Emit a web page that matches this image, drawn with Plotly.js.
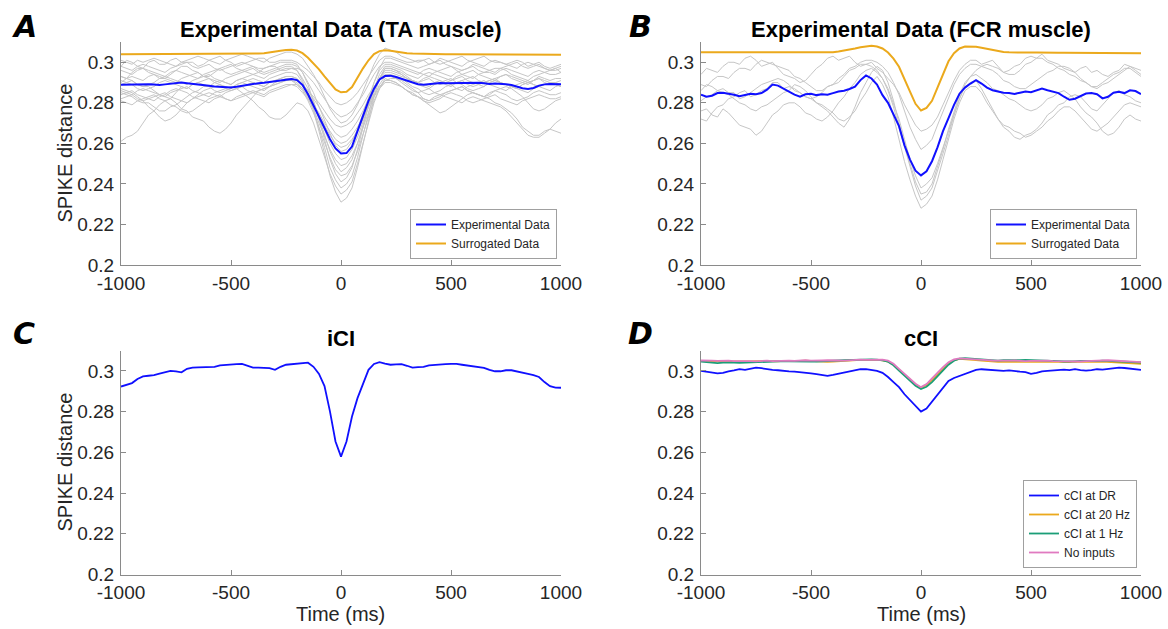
<!DOCTYPE html>
<html>
<head>
<meta charset="utf-8">
<script src="https://cdn.plot.ly/plotly-3.0.1.min.js"></script>
<style>html,body{margin:0;padding:0;background:#fff;}#chart{width:1168px;height:629px;}</style>
</head>
<body>
<div id="chart"></div>
<script>
// ---------- DATA ----------
const timeMs = [-1000,-975,-950,-925,-900,-875,-850,-825,-800,-775,-750,-725,-700,-675,-650,-625,-600,-575,-550,-525,-500,-475,-450,-425,-400,-375,-350,-325,-300,-275,-250,-225,-200,-175,-150,-125,-100,-75,-50,-25,0,25,50,75,100,125,150,175,200,225,250,275,300,325,350,375,400,425,450,475,500,525,550,575,600,625,650,675,700,725,750,775,800,825,850,875,900,925,950,975,1000];

const xTickVals = [-1000,-500,0,500,1000];
const xTickText = ['-1000','-500','0','500','1000'];
const yTickVals = [0.2,0.22,0.24,0.26,0.28,0.3];
const yTickText = ['0.2','0.22','0.24','0.26','0.28','0.3'];

// Panel A: TA muscle
const taExperimental = [0.2889,0.2890,0.2889,0.2891,0.2890,0.2892,0.2890,0.2888,0.2891,0.2894,0.2898,0.2900,0.2897,0.2893,0.2890,0.2886,0.2884,0.2881,0.2879,0.2877,0.2876,0.2879,0.2884,0.2889,0.2893,0.2897,0.2899,0.2902,0.2905,0.2908,0.2913,0.2917,0.2912,
 0.2888,0.2842,0.2785,0.2728,0.2675,0.2620,0.2575,0.2550,0.2552,0.2584,0.2660,0.2740,0.2810,0.2870,0.2915,0.2932,
 0.2934,0.2927,0.2918,0.2908,0.2898,0.2892,0.2889,0.2893,0.2897,0.2898,0.2896,0.2897,0.2895,0.2896,0.2898,0.2900,0.2899,0.2896,0.2893,0.2895,0.2894,0.2892,0.2888,0.2880,0.2872,0.2868,0.2873,0.2885,0.2891,0.2893,0.2892,0.2892];
const taSurrogated = [0.3040,0.3040,0.3040,0.3041,0.3041,0.3041,0.3041,0.3041,0.3041,0.3041,0.3041,0.3041,0.3041,0.3041,0.3041,0.3041,0.3041,0.3041,0.3041,0.3042,0.3042,0.3042,0.3042,0.3042,0.3042,
 0.3043,0.3045,0.3048,0.3052,0.3057,0.3061,0.3062,0.3058,0.3045,0.3022,0.2995,0.2965,0.2930,0.2895,0.2866,0.2852,0.2855,0.2878,0.2925,0.2970,0.3010,0.3040,0.3055,0.3059,0.3057,0.3052,0.3048,0.3045,0.3043,0.3042,
 0.3041,0.3041,0.3041,0.3040,0.3040,0.3040,0.3040,0.3040,0.3040,0.3040,0.3039,0.3039,0.3039,0.3039,0.3039,0.3039,0.3039,0.3038,0.3038,0.3038,0.3038,0.3038,0.3038,0.3037,0.3037,0.3037];
const taTrials = [
 [0.298,0.301,0.300,0.298,0.297,0.300,0.301,0.299,0.299,0.301,0.302,0.300,0.300,0.300,0.298,0.299,0.301,0.302,0.303,0.301,0.300,0.298,0.299,0.300,0.301,0.302,0.302,0.300,0.300,0.301,0.301,0.301,0.300,0.298,0.296,0.293,0.290,0.286,0.283,0.280,0.279,0.280,0.282,0.285,0.289,0.293,0.297,0.301,0.303,0.303,0.302,0.301,0.300,0.300,0.301,0.301,0.299,0.300,0.302,0.301,0.300,0.299,0.298,0.300,0.301,0.302,0.303,0.301,0.300,0.300,0.299,0.300,0.301,0.300,0.298,0.299,0.300,0.298,0.297,0.298,0.299],
 [0.293,0.292,0.295,0.297,0.297,0.295,0.294,0.292,0.292,0.294,0.296,0.298,0.298,0.296,0.295,0.293,0.293,0.295,0.297,0.298,0.299,0.297,0.296,0.295,0.294,0.295,0.297,0.298,0.298,0.296,0.296,0.297,0.297,0.296,0.293,0.290,0.286,0.282,0.278,0.275,0.273,0.274,0.276,0.280,0.284,0.289,0.294,0.298,0.300,0.300,0.299,0.298,0.297,0.296,0.295,0.294,0.293,0.295,0.296,0.297,0.298,0.296,0.294,0.293,0.292,0.294,0.295,0.296,0.297,0.297,0.296,0.294,0.293,0.292,0.291,0.293,0.294,0.295,0.296,0.297,0.295],
 [0.261,0.263,0.264,0.266,0.270,0.274,0.276,0.279,0.281,0.282,0.285,0.288,0.287,0.289,0.290,0.289,0.288,0.290,0.291,0.290,0.289,0.291,0.292,0.291,0.290,0.289,0.288,0.290,0.291,0.292,0.293,0.293,0.292,0.289,0.286,0.283,0.280,0.276,0.272,0.269,0.268,0.269,0.271,0.275,0.279,0.284,0.288,0.292,0.295,0.295,0.294,0.293,0.292,0.291,0.290,0.291,0.292,0.290,0.289,0.290,0.291,0.292,0.293,0.291,0.290,0.289,0.288,0.290,0.291,0.290,0.289,0.288,0.287,0.289,0.290,0.291,0.292,0.290,0.289,0.289,0.288],
 [0.289,0.290,0.291,0.289,0.288,0.288,0.286,0.284,0.283,0.282,0.280,0.277,0.276,0.273,0.272,0.271,0.268,0.266,0.265,0.267,0.270,0.274,0.277,0.280,0.283,0.286,0.287,0.288,0.290,0.291,0.292,0.292,0.291,0.289,0.286,0.282,0.278,0.273,0.269,0.265,0.263,0.264,0.267,0.271,0.276,0.282,0.287,0.291,0.294,0.294,0.293,0.292,0.290,0.288,0.287,0.285,0.284,0.285,0.286,0.288,0.289,0.290,0.291,0.289,0.288,0.289,0.290,0.291,0.292,0.290,0.289,0.288,0.287,0.289,0.290,0.289,0.288,0.287,0.286,0.288,0.289],
 [0.285,0.284,0.283,0.281,0.280,0.280,0.278,0.276,0.276,0.278,0.279,0.281,0.283,0.285,0.286,0.288,0.288,0.286,0.285,0.286,0.287,0.289,0.290,0.289,0.288,0.287,0.286,0.288,0.289,0.290,0.291,0.291,0.289,0.287,0.283,0.279,0.275,0.270,0.266,0.262,0.260,0.261,0.264,0.268,0.273,0.279,0.284,0.288,0.291,0.292,0.292,0.291,0.289,0.287,0.285,0.282,0.281,0.282,0.283,0.285,0.286,0.287,0.288,0.286,0.285,0.284,0.283,0.284,0.286,0.287,0.288,0.287,0.285,0.283,0.280,0.277,0.276,0.277,0.279,0.281,0.282],
 [0.296,0.295,0.294,0.296,0.297,0.296,0.295,0.294,0.293,0.295,0.296,0.295,0.294,0.293,0.292,0.294,0.295,0.296,0.297,0.295,0.294,0.295,0.296,0.297,0.298,0.296,0.295,0.296,0.297,0.298,0.299,0.299,0.298,0.295,0.290,0.285,0.278,0.271,0.265,0.259,0.256,0.257,0.261,0.267,0.275,0.283,0.290,0.296,0.299,0.299,0.298,0.297,0.296,0.295,0.294,0.296,0.297,0.296,0.295,0.294,0.293,0.295,0.296,0.297,0.298,0.296,0.295,0.295,0.294,0.296,0.297,0.296,0.295,0.294,0.293,0.295,0.296,0.295,0.294,0.294,0.295],
 [0.287,0.286,0.285,0.283,0.281,0.278,0.276,0.273,0.271,0.272,0.274,0.277,0.280,0.282,0.284,0.286,0.287,0.288,0.289,0.287,0.286,0.287,0.288,0.289,0.290,0.289,0.288,0.290,0.291,0.292,0.293,0.293,0.292,0.289,0.285,0.280,0.273,0.266,0.260,0.255,0.252,0.253,0.257,0.263,0.271,0.279,0.286,0.292,0.296,0.296,0.295,0.294,0.292,0.290,0.289,0.288,0.287,0.289,0.290,0.291,0.292,0.290,0.289,0.287,0.286,0.287,0.288,0.290,0.291,0.290,0.289,0.288,0.287,0.286,0.285,0.287,0.288,0.289,0.290,0.289,0.288],
 [0.284,0.285,0.286,0.284,0.283,0.282,0.281,0.283,0.284,0.286,0.287,0.286,0.285,0.283,0.282,0.281,0.280,0.282,0.283,0.285,0.286,0.287,0.288,0.286,0.285,0.286,0.287,0.288,0.289,0.290,0.291,0.291,0.290,0.287,0.282,0.277,0.270,0.263,0.257,0.252,0.249,0.250,0.254,0.260,0.268,0.276,0.283,0.289,0.293,0.293,0.292,0.290,0.288,0.286,0.285,0.286,0.287,0.285,0.284,0.285,0.286,0.287,0.288,0.286,0.285,0.284,0.283,0.282,0.280,0.279,0.277,0.275,0.272,0.268,0.266,0.264,0.264,0.266,0.267,0.266,0.265],
 [0.290,0.292,0.293,0.292,0.291,0.293,0.294,0.293,0.292,0.291,0.290,0.292,0.293,0.294,0.295,0.293,0.292,0.291,0.290,0.292,0.293,0.294,0.295,0.296,0.297,0.295,0.294,0.295,0.296,0.297,0.298,0.298,0.296,0.292,0.287,0.281,0.273,0.264,0.256,0.250,0.246,0.248,0.252,0.260,0.269,0.279,0.287,0.294,0.298,0.298,0.297,0.296,0.294,0.293,0.292,0.294,0.295,0.294,0.293,0.292,0.291,0.293,0.294,0.295,0.296,0.294,0.293,0.292,0.291,0.293,0.294,0.293,0.292,0.291,0.290,0.291,0.293,0.292,0.291,0.292,0.292],
 [0.281,0.280,0.279,0.281,0.282,0.283,0.284,0.282,0.281,0.279,0.278,0.276,0.275,0.276,0.278,0.280,0.282,0.283,0.284,0.282,0.281,0.282,0.283,0.284,0.285,0.284,0.283,0.285,0.286,0.287,0.288,0.289,0.289,0.286,0.281,0.275,0.268,0.260,0.253,0.247,0.244,0.245,0.249,0.256,0.265,0.273,0.281,0.287,0.291,0.291,0.290,0.288,0.286,0.284,0.283,0.281,0.280,0.281,0.282,0.284,0.285,0.284,0.283,0.281,0.280,0.281,0.282,0.283,0.284,0.282,0.281,0.280,0.279,0.281,0.282,0.283,0.284,0.283,0.282,0.282,0.283],
 [0.298,0.297,0.296,0.298,0.299,0.298,0.297,0.296,0.295,0.297,0.298,0.299,0.300,0.298,0.297,0.298,0.299,0.297,0.296,0.297,0.298,0.299,0.300,0.299,0.298,0.297,0.297,0.298,0.299,0.300,0.300,0.300,0.299,0.295,0.289,0.281,0.272,0.262,0.252,0.245,0.241,0.243,0.248,0.257,0.268,0.279,0.290,0.297,0.302,0.302,0.301,0.300,0.299,0.298,0.297,0.298,0.299,0.300,0.301,0.299,0.298,0.297,0.296,0.297,0.299,0.298,0.297,0.296,0.295,0.297,0.298,0.299,0.300,0.298,0.297,0.298,0.299,0.297,0.296,0.297,0.298],
 [0.291,0.290,0.289,0.287,0.286,0.287,0.288,0.290,0.291,0.290,0.289,0.288,0.287,0.289,0.290,0.291,0.292,0.290,0.289,0.288,0.287,0.289,0.290,0.291,0.292,0.291,0.290,0.292,0.293,0.294,0.295,0.295,0.294,0.290,0.284,0.277,0.268,0.258,0.248,0.242,0.238,0.240,0.244,0.253,0.264,0.275,0.285,0.292,0.297,0.297,0.296,0.295,0.293,0.291,0.290,0.289,0.288,0.290,0.291,0.290,0.289,0.287,0.286,0.288,0.289,0.290,0.291,0.289,0.288,0.287,0.286,0.288,0.289,0.290,0.291,0.289,0.288,0.289,0.290,0.290,0.289],
 [0.286,0.285,0.284,0.286,0.287,0.286,0.285,0.284,0.283,0.285,0.286,0.287,0.288,0.286,0.285,0.284,0.283,0.285,0.286,0.287,0.288,0.287,0.285,0.283,0.281,0.278,0.276,0.273,0.272,0.272,0.274,0.277,0.280,0.279,0.276,0.270,0.262,0.253,0.245,0.239,0.235,0.237,0.241,0.250,0.260,0.270,0.280,0.287,0.292,0.291,0.290,0.288,0.286,0.285,0.283,0.281,0.279,0.277,0.275,0.276,0.278,0.280,0.282,0.284,0.285,0.284,0.283,0.285,0.286,0.285,0.284,0.282,0.281,0.282,0.283,0.285,0.286,0.285,0.284,0.284,0.285],
 [0.293,0.292,0.291,0.289,0.288,0.289,0.290,0.292,0.293,0.292,0.291,0.290,0.289,0.291,0.292,0.293,0.294,0.292,0.291,0.290,0.289,0.291,0.292,0.293,0.294,0.293,0.292,0.294,0.295,0.296,0.297,0.297,0.296,0.291,0.284,0.276,0.266,0.255,0.244,0.236,0.231,0.233,0.238,0.248,0.259,0.271,0.283,0.292,0.297,0.297,0.296,0.294,0.292,0.291,0.290,0.292,0.293,0.292,0.291,0.289,0.288,0.290,0.291,0.292,0.293,0.291,0.290,0.291,0.292,0.293,0.294,0.292,0.291,0.290,0.289,0.291,0.292,0.291,0.290,0.290,0.291],
 [0.301,0.300,0.299,0.301,0.300,0.301,0.302,0.301,0.300,0.299,0.298,0.300,0.301,0.302,0.303,0.302,0.301,0.300,0.299,0.301,0.302,0.303,0.304,0.303,0.302,0.301,0.300,0.302,0.303,0.304,0.305,0.305,0.304,0.302,0.298,0.294,0.289,0.283,0.277,0.273,0.270,0.271,0.274,0.279,0.286,0.293,0.299,0.304,0.307,0.306,0.305,0.303,0.302,0.301,0.300,0.301,0.302,0.300,0.299,0.300,0.301,0.302,0.303,0.301,0.300,0.299,0.298,0.300,0.301,0.300,0.299,0.298,0.297,0.299,0.300,0.299,0.298,0.297,0.296,0.296,0.297],
 [0.282,0.283,0.284,0.282,0.281,0.282,0.283,0.284,0.285,0.283,0.282,0.281,0.280,0.282,0.283,0.284,0.285,0.284,0.283,0.282,0.281,0.283,0.284,0.285,0.286,0.285,0.284,0.286,0.287,0.288,0.289,0.289,0.288,0.285,0.282,0.278,0.274,0.269,0.264,0.260,0.258,0.259,0.262,0.266,0.272,0.278,0.283,0.287,0.290,0.290,0.289,0.288,0.286,0.284,0.283,0.282,0.281,0.283,0.284,0.283,0.282,0.281,0.280,0.282,0.283,0.282,0.281,0.280,0.279,0.278,0.276,0.273,0.270,0.267,0.264,0.263,0.263,0.265,0.267,0.270,0.272]
];

// Panel B: FCR muscle
const fcrExperimental = [0.2840,0.2830,0.2835,0.2848,0.2850,0.2846,0.2840,0.2833,0.2838,0.2845,0.2842,0.2848,0.2865,0.2890,0.2885,0.2870,0.2858,0.2840,0.2830,0.2842,0.2845,0.2838,0.2842,0.2840,0.2848,0.2856,0.2860,0.2868,0.2880,0.2912,0.2935,0.2920,0.2890,
 0.2838,0.2800,0.2745,0.2685,0.2590,0.2520,0.2465,0.2442,0.2462,0.2512,0.2580,0.2660,0.2725,0.2790,0.2845,0.2875,
 0.2895,0.2912,0.2895,0.2875,0.2862,0.2856,0.2850,0.2848,0.2844,0.2850,0.2856,0.2852,0.2860,0.2870,0.2862,0.2856,0.2848,0.2830,0.2815,0.2820,0.2835,0.2846,0.2848,0.2842,0.2822,0.2830,0.2850,0.2855,0.2848,0.2862,0.2858,0.2843];
const fcrSurrogated = [0.3049,0.3048,0.3049,0.3049,0.3050,0.3049,0.3049,0.3048,0.3049,0.3049,0.3049,0.3050,0.3049,0.3049,0.3048,0.3048,0.3049,0.3049,0.3048,0.3049,0.3049,0.3049,0.3049,0.3049,
 0.3050,0.3053,0.3057,0.3062,0.3068,0.3074,0.3079,0.3081,0.3078,
 0.3068,0.3048,0.3018,0.2978,0.2920,0.2855,0.2795,0.2762,0.2775,0.2810,0.2875,0.2945,0.3005,0.3045,0.3068,0.3078,
 0.3079,0.3077,0.3072,0.3066,0.3060,0.3055,0.3051,0.3049,0.3048,0.3048,0.3047,0.3048,0.3048,0.3047,0.3047,0.3048,0.3047,0.3047,0.3047,0.3046,0.3047,0.3047,0.3046,0.3046,0.3047,0.3046,0.3046,0.3046,0.3046,0.3045,0.3046,0.3045];
const fcrTrials = [
 [0.294,0.297,0.296,0.295,0.298,0.300,0.300,0.299,0.302,0.303,0.301,0.298,0.299,0.300,0.297,0.294,0.293,0.292,0.290,0.291,0.294,0.297,0.299,0.302,0.303,0.301,0.302,0.303,0.300,0.298,0.299,0.300,0.297,0.295,0.292,0.289,0.285,0.279,0.274,0.269,0.266,0.267,0.269,0.273,0.279,0.285,0.291,0.296,0.299,0.301,0.301,0.299,0.300,0.301,0.298,0.295,0.296,0.298,0.299,0.302,0.303,0.302,0.304,0.301,0.300,0.299,0.297,0.296,0.295,0.297,0.298,0.295,0.296,0.294,0.293,0.295,0.296,0.299,0.298,0.297,0.296],
 [0.289,0.288,0.291,0.293,0.293,0.292,0.295,0.297,0.297,0.296,0.299,0.301,0.300,0.299,0.298,0.297,0.296,0.293,0.292,0.290,0.288,0.286,0.286,0.288,0.289,0.292,0.294,0.297,0.298,0.300,0.301,0.301,0.300,0.298,0.295,0.290,0.284,0.276,0.268,0.262,0.257,0.259,0.262,0.269,0.276,0.283,0.289,0.294,0.297,0.299,0.299,0.298,0.297,0.296,0.294,0.291,0.290,0.288,0.287,0.287,0.289,0.291,0.293,0.295,0.296,0.298,0.298,0.297,0.295,0.292,0.290,0.288,0.287,0.289,0.290,0.292,0.294,0.296,0.298,0.296,0.294],
 [0.276,0.277,0.274,0.273,0.277,0.275,0.272,0.269,0.268,0.267,0.264,0.266,0.270,0.274,0.276,0.279,0.280,0.280,0.278,0.275,0.274,0.272,0.271,0.273,0.276,0.280,0.283,0.287,0.290,0.294,0.296,0.297,0.295,0.292,0.287,0.280,0.272,0.262,0.252,0.244,0.238,0.240,0.243,0.250,0.258,0.266,0.275,0.282,0.288,0.290,0.291,0.287,0.282,0.277,0.272,0.268,0.266,0.263,0.262,0.264,0.265,0.267,0.270,0.274,0.276,0.279,0.280,0.283,0.284,0.283,0.280,0.277,0.276,0.279,0.282,0.285,0.286,0.284,0.283,0.281,0.280],
 [0.286,0.289,0.288,0.286,0.285,0.284,0.282,0.280,0.279,0.277,0.276,0.278,0.279,0.281,0.283,0.285,0.286,0.289,0.288,0.286,0.283,0.280,0.278,0.276,0.273,0.270,0.268,0.272,0.278,0.285,0.290,0.295,0.298,0.296,0.290,0.281,0.270,0.259,0.250,0.241,0.235,0.236,0.240,0.248,0.257,0.267,0.276,0.284,0.290,0.293,0.294,0.292,0.290,0.287,0.286,0.284,0.282,0.281,0.279,0.277,0.276,0.277,0.279,0.282,0.283,0.285,0.286,0.284,0.282,0.278,0.275,0.273,0.270,0.266,0.264,0.265,0.268,0.272,0.274,0.272,0.271],
 [0.272,0.271,0.275,0.278,0.279,0.282,0.283,0.285,0.286,0.283,0.284,0.286,0.287,0.290,0.290,0.287,0.288,0.287,0.285,0.283,0.282,0.283,0.285,0.288,0.289,0.290,0.293,0.296,0.297,0.299,0.299,0.298,0.296,0.292,0.286,0.278,0.268,0.258,0.248,0.239,0.232,0.234,0.238,0.246,0.255,0.264,0.274,0.282,0.289,0.293,0.296,0.298,0.299,0.298,0.297,0.295,0.294,0.294,0.296,0.299,0.300,0.302,0.302,0.300,0.299,0.297,0.296,0.294,0.293,0.291,0.290,0.288,0.288,0.290,0.292,0.294,0.295,0.297,0.297,0.295,0.293],
 [0.281,0.283,0.284,0.286,0.287,0.285,0.285,0.282,0.283,0.285,0.287,0.289,0.290,0.291,0.292,0.291,0.289,0.286,0.285,0.283,0.282,0.280,0.279,0.277,0.275,0.272,0.271,0.273,0.276,0.281,0.285,0.290,0.293,0.289,0.283,0.273,0.262,0.251,0.242,0.234,0.228,0.230,0.234,0.242,0.252,0.262,0.272,0.280,0.286,0.288,0.288,0.285,0.280,0.276,0.272,0.269,0.268,0.266,0.265,0.263,0.264,0.266,0.268,0.271,0.273,0.276,0.278,0.278,0.276,0.273,0.270,0.267,0.266,0.268,0.270,0.273,0.276,0.279,0.280,0.279,0.278]
];

// Panel C: iCI
const iciDistance = [0.2923,0.2931,0.2940,0.2960,0.2973,0.2976,0.2979,0.2986,0.2993,0.3000,0.2997,0.2993,0.3010,0.3016,0.3017,0.3018,0.3016,0.3020,0.3027,0.3030,0.3032,0.3033,0.3034,0.3025,0.3016,0.3016,0.3016,0.3013,0.3005,0.3020,0.3030,0.3032,0.3034,0.3036,0.3040,0.3020,
 0.2985,0.2925,0.2800,0.2653,0.2579,0.2653,0.2776,0.2866,0.2939,0.3005,0.3034,0.3043,0.3036,0.3030,0.3032,0.3033,0.3025,0.3016,0.3018,0.3020,0.3027,0.3030,0.3031,0.3033,0.3034,0.3034,0.3030,0.3027,0.3024,0.3018,0.3015,0.3005,0.2998,0.2998,0.3003,0.3003,0.2996,0.2989,0.2985,0.2979,0.2970,0.2945,0.2925,0.2918,0.2917];

// Panel D: cCI
const cciAtDR = [0.3000,0.2995,0.2990,0.2988,0.2990,0.2998,0.3002,0.3008,0.3005,0.3010,0.3016,0.3013,0.3008,0.3005,0.3003,0.2999,0.2997,0.2996,0.2994,0.2990,0.2988,0.2984,0.2978,0.2975,0.2980,0.2986,0.2992,0.2998,0.3004,0.3009,0.3008,0.3004,0.3000,
 0.2990,0.2970,0.2945,0.2920,0.2885,0.2855,0.2825,0.2800,0.2815,0.2850,0.2885,0.2920,0.2950,0.2965,0.2975,0.2985,
 0.2995,0.3005,0.3008,0.3006,0.3005,0.3003,0.3000,0.3002,0.2998,0.2996,0.2994,0.2985,0.2990,0.2998,0.3000,0.3003,0.3003,0.3006,0.3004,0.3008,0.3004,0.3001,0.3004,0.3008,0.3006,0.3009,0.3013,0.3016,0.3014,0.3010,0.3007,0.3005];
const cciAt20Hz = [0.3049,0.3050,0.3048,0.3047,0.3045,0.3046,0.3047,0.3046,0.3045,0.3046,0.3048,0.3047,0.3046,0.3048,0.3047,0.3049,0.3048,0.3047,0.3049,0.3050,0.3048,0.3046,0.3045,0.3044,0.3046,0.3048,0.3047,0.3049,0.3052,0.3054,0.3053,0.3054,0.3054,
 0.3052,0.3046,0.3030,0.3006,0.2982,0.2958,0.2934,0.2917,0.2930,0.2955,0.2984,0.3010,0.3036,0.3052,0.3059,0.3058,
 0.3056,0.3053,0.3050,0.3047,0.3045,0.3044,0.3046,0.3045,0.3043,0.3044,0.3046,0.3045,0.3043,0.3044,0.3046,0.3045,0.3044,0.3042,0.3043,0.3045,0.3044,0.3043,0.3042,0.3044,0.3045,0.3043,0.3041,0.3040,0.3038,0.3036,0.3035,0.3034];
const cciAt1Hz = [0.3045,0.3042,0.3040,0.3038,0.3040,0.3042,0.3041,0.3039,0.3040,0.3042,0.3044,0.3046,0.3045,0.3047,0.3046,0.3048,0.3047,0.3046,0.3048,0.3047,0.3045,0.3046,0.3048,0.3050,0.3049,0.3051,0.3052,0.3053,0.3055,0.3056,0.3055,0.3056,0.3055,
 0.3052,0.3045,0.3027,0.3001,0.2975,0.2950,0.2927,0.2911,0.2922,0.2945,0.2975,0.3003,0.3030,0.3050,0.3060,0.3062,
 0.3060,0.3057,0.3054,0.3052,0.3051,0.3050,0.3052,0.3051,0.3050,0.3052,0.3054,0.3053,0.3055,0.3054,0.3052,0.3050,0.3048,0.3046,0.3045,0.3047,0.3049,0.3048,0.3046,0.3048,0.3050,0.3049,0.3047,0.3046,0.3045,0.3043,0.3042,0.3041];
const cciNoInputs = [0.3051,0.3052,0.3050,0.3049,0.3051,0.3050,0.3048,0.3049,0.3050,0.3048,0.3047,0.3049,0.3050,0.3048,0.3049,0.3051,0.3050,0.3049,0.3051,0.3052,0.3050,0.3049,0.3051,0.3052,0.3053,0.3051,0.3050,0.3052,0.3054,0.3055,0.3054,0.3055,0.3056,
 0.3055,0.3050,0.3035,0.3010,0.2985,0.2962,0.2937,0.2920,0.2935,0.2963,0.2992,0.3018,0.3042,0.3056,0.3061,0.3060,
 0.3058,0.3056,0.3055,0.3053,0.3051,0.3050,0.3049,0.3050,0.3051,0.3049,0.3048,0.3049,0.3050,0.3051,0.3050,0.3048,0.3047,0.3049,0.3046,0.3044,0.3046,0.3048,0.3050,0.3049,0.3051,0.3052,0.3050,0.3048,0.3047,0.3045,0.3044,0.3043];

// ---------- STYLE ----------
const FONT = 'Liberation Sans, Arial, sans-serif';
const BLUE = '#1010ff';
const ORANGE = '#EBA91C';
const GREEN = '#1b9e77';
const PINK = '#e07ac0';
const GRAY = '#c6c6c6';
const AXIS = '#8a8a8a';
const TEXT = '#262626';

const traces = [];
taTrials.forEach(tr => traces.push({x: timeMs, y: tr, xaxis:'x', yaxis:'y', mode:'lines', line:{color:GRAY, width:1}, showlegend:false, hoverinfo:'skip'}));
traces.push({x: timeMs, y: taExperimental, xaxis:'x', yaxis:'y', mode:'lines', name:'Experimental Data', line:{color:BLUE, width:2}, legend:'legend'});
traces.push({x: timeMs, y: taSurrogated, xaxis:'x', yaxis:'y', mode:'lines', name:'Surrogated Data', line:{color:ORANGE, width:2}, legend:'legend'});

fcrTrials.forEach(tr => traces.push({x: timeMs, y: tr, xaxis:'x2', yaxis:'y2', mode:'lines', line:{color:GRAY, width:1}, showlegend:false, hoverinfo:'skip'}));
traces.push({x: timeMs, y: fcrExperimental, xaxis:'x2', yaxis:'y2', mode:'lines', name:'Experimental Data', line:{color:BLUE, width:2}, legend:'legend2'});
traces.push({x: timeMs, y: fcrSurrogated, xaxis:'x2', yaxis:'y2', mode:'lines', name:'Surrogated Data', line:{color:ORANGE, width:2}, legend:'legend2'});

traces.push({x: timeMs, y: iciDistance, xaxis:'x3', yaxis:'y3', mode:'lines', name:'iCI', line:{color:BLUE, width:1.8}, showlegend:false});

traces.push({x: timeMs, y: cciAtDR, xaxis:'x4', yaxis:'y4', mode:'lines', name:'cCI at DR', line:{color:BLUE, width:1.8}, legend:'legend3'});
traces.push({x: timeMs, y: cciAt20Hz, xaxis:'x4', yaxis:'y4', mode:'lines', name:'cCI at 20 Hz', line:{color:ORANGE, width:1.8}, legend:'legend3'});
traces.push({x: timeMs, y: cciAt1Hz, xaxis:'x4', yaxis:'y4', mode:'lines', name:'cCI at 1 Hz', line:{color:GREEN, width:1.8}, legend:'legend3'});
traces.push({x: timeMs, y: cciNoInputs, xaxis:'x4', yaxis:'y4', mode:'lines', name:'No inputs', line:{color:PINK, width:1.8}, legend:'legend3'});

const W = 1168, H = 629;
const px = v => v / W;
const py = v => (H - v) / H;

function xAx(domain, anchor) {
  return {domain, anchor, range:[-1000,1000], tickvals:xTickVals, ticktext:xTickText,
    showline:true, linecolor:AXIS, linewidth:1, ticks:'inside', ticklen:5, tickcolor:AXIS,
    showgrid:false, zeroline:false, tickfont:{family:FONT, size:19, color:TEXT}, ticklabelstandoff:1, fixedrange:true};
}
function yAx(domain, anchor) {
  return {domain, anchor, range:[0.2,0.31], tickvals:yTickVals, ticktext:yTickText,
    showline:true, linecolor:AXIS, linewidth:1, ticks:'inside', ticklen:5, tickcolor:AXIS,
    showgrid:false, zeroline:false, tickfont:{family:FONT, size:19, color:TEXT}, ticklabelstandoff:2, fixedrange:true};
}

const colL = [px(121), px(561)];
const colR = [px(701), px(1141)];
const rowT = [py(265), py(42)];
const rowB = [py(574.5), py(350.5)];

const legendBase = {bgcolor:'#ffffff', bordercolor:'#a0a0a0', borderwidth:1,
  font:{family:FONT, size:12, color:TEXT}, xanchor:'right', yanchor:'bottom', tracegroupgap:0};

const titleFont = {family:FONT, size:22, color:'#000', weight:'bold'};
const axisTitleFont = {family:FONT, size:20, color:TEXT};
const letterFont = {family:'DejaVu Sans, sans-serif', size:30, color:'#000', weight:'bold', style:'italic'};

function note(text, x, y, font, extra) {
  return Object.assign({text, x:px(x), y:py(y), xref:'paper', yref:'paper', showarrow:false, xanchor:'center', yanchor:'middle', font}, extra || {});
}

const layout = {
  width:W, height:H, autosize:false,
  margin:{l:0, r:0, t:0, b:0},
  paper_bgcolor:'#ffffff', plot_bgcolor:'#ffffff',
  font:{family:FONT, color:TEXT},
  xaxis: xAx(colL, 'y'),
  yaxis: yAx(rowT, 'x'),
  xaxis2: xAx(colR, 'y2'),
  yaxis2: yAx(rowT, 'x2'),
  xaxis3: xAx(colL, 'y3'),
  yaxis3: yAx(rowB, 'x3'),
  xaxis4: xAx(colR, 'y4'),
  yaxis4: yAx(rowB, 'x4'),
  legend: Object.assign({}, legendBase, {x:px(557), y:py(259)}),
  legend2: Object.assign({}, legendBase, {x:px(1137), y:py(259)}),
  legend3: Object.assign({}, legendBase, {x:px(1137), y:py(568)}),
  annotations: [
    note('Experimental Data (TA muscle)', 341, 30, titleFont),
    note('Experimental Data (FCR muscle)', 921, 30, titleFont),
    note('iCI', 341, 338, titleFont),
    note('cCI', 921, 338, titleFont),
    note('SPIKE distance', 64, 153.5, axisTitleFont, {textangle:-90}),
    note('SPIKE distance', 64, 462.5, axisTitleFont, {textangle:-90}),
    note('Time (ms)', 341, 614, axisTitleFont),
    note('Time (ms)', 921, 614, axisTitleFont),
    note('A', 24, 27, letterFont),
    note('B', 640, 27, letterFont),
    note('C', 24, 333, letterFont),
    note('D', 640, 333, letterFont)
  ]
};

Plotly.newPlot('chart', traces, layout, {staticPlot:true, displayModeBar:false});
</script>
</body>
</html>
